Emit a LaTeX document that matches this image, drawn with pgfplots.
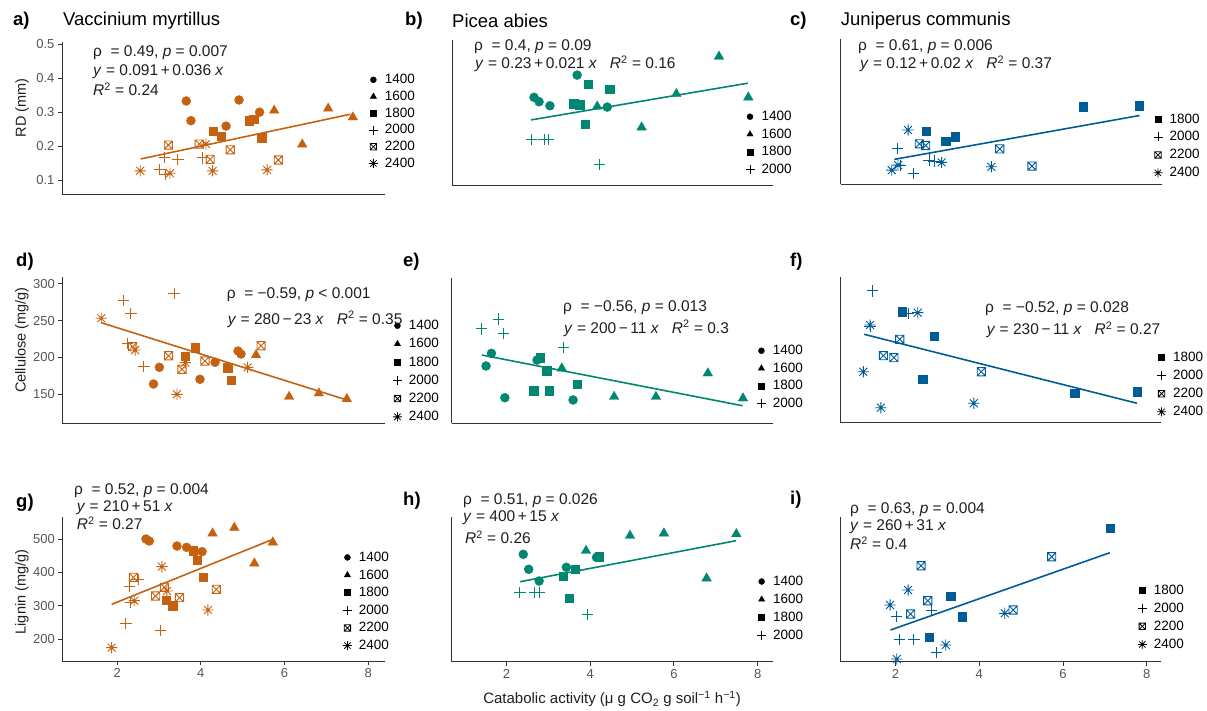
\documentclass[border=0pt]{standalone}
\usepackage{fontspec}
\setmainfont{Liberation Sans}
\usepackage{pgfplots}
\pgfplotsset{compat=1.18}

\definecolor{vor}{RGB}{197,98,18}
\definecolor{vte}{RGB}{0,134,113}
\definecolor{vbl}{RGB}{0,92,150}
\definecolor{axgray}{RGB}{51,51,51}
\definecolor{tkgray}{RGB}{85,85,85}

\pgfdeclareplotmark{boxx}{%
  \pgfpathrectangle{\pgfqpoint{-\pgfplotmarksize}{-\pgfplotmarksize}}{\pgfqpoint{2\pgfplotmarksize}{2\pgfplotmarksize}}%
  \pgfpathmoveto{\pgfqpoint{-\pgfplotmarksize}{-\pgfplotmarksize}}\pgfpathlineto{\pgfqpoint{\pgfplotmarksize}{\pgfplotmarksize}}%
  \pgfpathmoveto{\pgfqpoint{-\pgfplotmarksize}{\pgfplotmarksize}}\pgfpathlineto{\pgfqpoint{\pgfplotmarksize}{-\pgfplotmarksize}}%
  \pgfusepathqstroke}
\pgfdeclareplotmark{ast8}{%
  \pgfpathmoveto{\pgfqpoint{-\pgfplotmarksize}{0pt}}\pgfpathlineto{\pgfqpoint{\pgfplotmarksize}{0pt}}%
  \pgfpathmoveto{\pgfqpoint{0pt}{-\pgfplotmarksize}}\pgfpathlineto{\pgfqpoint{0pt}{\pgfplotmarksize}}%
  \pgfpathmoveto{\pgfqpoint{-0.707\pgfplotmarksize}{-0.707\pgfplotmarksize}}\pgfpathlineto{\pgfqpoint{0.707\pgfplotmarksize}{0.707\pgfplotmarksize}}%
  \pgfpathmoveto{\pgfqpoint{-0.707\pgfplotmarksize}{0.707\pgfplotmarksize}}\pgfpathlineto{\pgfqpoint{0.707\pgfplotmarksize}{-0.707\pgfplotmarksize}}%
  \pgfusepathqstroke}

\pgfplotsset{
  base/.style={
    scale only axis, anchor=south west, clip=false,
    axis x line*=bottom, axis y line*=left,
    axis line style={line width=1pt, draw=axgray},
    tick align=outside, major tick length=4pt,
    tick style={line width=0.9pt, draw=axgray},
    xtick=\empty, ytick=\empty,
    tick label style={font=\fontsize{13}{13}\selectfont, text=tkgray},
    /pgf/number format/assume math mode=true,
    legend style={draw=none, fill=none, inner sep=0pt, font=\fontsize{13.5}{13.5}\selectfont, text=black, anchor=north west, nodes={inner sep=1pt}, column sep=6pt},
    legend cell align=left,
    legend image code/.code={\draw[##1] plot coordinates {(0pt,0pt)};},
  },
  leg/.style n args={3}{legend style={at={(axis description cs:#1,#2)}, row sep=#3}},
  m1400/.style={only marks, mark=*, mark size=4.5},
  m1600/.style={only marks, mark=triangle*, mark size=5.5},
  m1800/.style={only marks, mark=square*, mark size=4.1},
  m2000/.style={only marks, mark=+, mark size=5.6, mark options={line width=1pt}},
  m2200/.style={only marks, mark=boxx, mark size=4.1, mark options={line width=0.9pt}},
  m2400/.style={only marks, mark=ast8, mark size=5.6, mark options={line width=0.9pt}},
  l1400/.style={only marks, black, mark=*, mark size=3},
  l1600/.style={only marks, black, mark=triangle*, mark size=3.6},
  l1800/.style={only marks, black, mark=square*, mark size=3},
  l2000/.style={only marks, black, mark=+, mark size=4.5, mark options={line width=0.9pt}},
  l2200/.style={only marks, black, mark=boxx, mark size=3.2, mark options={line width=0.8pt}},
  l2400/.style={only marks, black, mark=ast8, mark size=4.5, mark options={line width=0.8pt}},
  rline/.style={no marks, line width=1.6pt, forget plot},
}

\newcommand{\LG}[1]{\addlegendimage{l#1}\addlegendentry{#1}}
\newcommand{\legsix}{\LG{1400}\LG{1600}\LG{1800}\LG{2000}\LG{2200}\LG{2400}}
\newcommand{\legfour}{\LG{1400}\LG{1600}\LG{1800}\LG{2000}}
\newcommand{\legjun}{\LG{1800}\LG{2000}\LG{2200}\LG{2400}}
\newcommand{\annfont}{\fontsize{15.5}{17}\selectfont}
\newcommand{\ann}[3]{\node[anchor=west,inner sep=0pt,font=\annfont,text=black!88] at (#1pt,-#2pt) {#3};}
\newcommand{\ylab}[2]{\node[rotate=90,inner sep=0pt,font=\fontsize{14.5}{15}\selectfont,text=black!88] at (22pt,-#1pt) {#2};}

\begin{document}
\begin{tikzpicture}
\useasboundingbox (0pt,0pt) rectangle (1207pt,-710pt);

% ---------------- a ----------------
\begin{axis}[base, at={(62pt,-194pt)}, width=323pt, height=152pt,
  xmin=0.69, xmax=8.408, ymin=0.0587, ymax=0.507,
  ytick={0.1,0.2,0.3,0.4,0.5}, leg={0.9495}{0.795}{3.8pt}]
\addplot[m1400,color=vor,forget plot] coordinates {(3.66,0.333) (3.77,0.275) (4.61,0.259) (4.92,0.336) (5.41,0.300)};
\addplot[m1600,color=vor,forget plot] coordinates {(5.76,0.305) (6.43,0.205) (7.05,0.311) (7.64,0.285)};
\addplot[m1800,color=vor,forget plot] coordinates {(4.31,0.245) (4.49,0.230) (5.16,0.275) (5.27,0.279) (5.46,0.225)};
\addplot[m2000,color=vor,forget plot] coordinates {(3.13,0.167) (3.46,0.161) (3.02,0.130) (3.17,0.117) (4.04,0.165)};
\addplot[m2200,color=vor,forget plot] coordinates {(3.23,0.203) (3.97,0.206) (4.23,0.161) (4.71,0.189) (5.86,0.159)};
\addplot[m2400,color=vor,forget plot] coordinates {(2.56,0.127) (3.27,0.120) (4.13,0.206) (4.29,0.127) (5.59,0.130)};
\addplot[rline,color=vor] coordinates {(2.57,0.162) (7.58,0.294)};
\legsix
\end{axis}

% ---------------- b ----------------
\begin{axis}[base, at={(452pt,-185pt)}, width=321pt, height=145pt,
  xmin=0.69, xmax=8.360, ymin=0.09, ymax=0.52, leg={0.9137}{0.517}{4.6pt}]
\addplot[m1400,color=vte,forget plot] coordinates {(2.65,0.350) (2.77,0.337) (3.03,0.325) (3.68,0.416) (4.40,0.321)};
\addplot[m1600,color=vte,forget plot] coordinates {(4.16,0.323) (5.22,0.261) (6.05,0.360) (7.07,0.471) (7.77,0.350)};
\addplot[m1800,color=vte,forget plot] coordinates {(3.94,0.390) (4.46,0.374) (3.60,0.331) (3.74,0.328) (3.87,0.271)};
\addplot[m2000,color=vte,forget plot] coordinates {(2.58,0.226) (2.89,0.226) (2.99,0.226) (4.21,0.151)};
\addplot[rline,color=vte] coordinates {(2.58,0.283) (7.76,0.392)};
\legfour
\end{axis}

% ---------------- c ----------------
\begin{axis}[base, at={(840.7pt,-184.3pt)}, width=321pt, height=145pt,
  xmin=0.69, xmax=8.360, ymin=0.09, ymax=0.52, leg={0.9738}{0.496}{5pt}]
\addplot[m1800,color=vbl,forget plot] coordinates {(2.74,0.248) (3.20,0.217) (3.43,0.231) (6.49,0.320) (7.83,0.323)};
\addplot[m2000,color=vbl,forget plot] coordinates {(2.05,0.195) (2.11,0.145) (2.42,0.123) (2.80,0.162) (2.92,0.159)};
\addplot[m2200,color=vbl,forget plot] coordinates {(2.57,0.210) (2.72,0.205) (4.49,0.195) (5.26,0.144)};
\addplot[m2400,color=vbl,forget plot] coordinates {(2.30,0.251) (3.10,0.155) (1.91,0.132) (2.06,0.147) (4.29,0.142)};
\addplot[rline,color=vbl] coordinates {(1.97,0.164) (7.83,0.294)};
\legjun
\end{axis}

% ---------------- d ----------------
\begin{axis}[base, at={(62.3pt,-423.3pt)}, width=322.7pt, height=146.6pt,
  xmin=0.69, xmax=8.401, ymin=110.6, ymax=309.8,
  ytick={150,200,250,300}, leg={1.024}{0.711}{5.3pt}]
\addplot[m1400,color=vor,forget plot] coordinates {(2.87,164) (3.01,186.7) (3.98,170.4) (4.34,193.5) (4.89,208.8) (4.96,204.8)};
\addplot[m1600,color=vor,forget plot] coordinates {(5.32,203.4) (6.11,146.7) (6.82,151.4) (7.49,143.6)};
\addplot[m1800,color=vor,forget plot] coordinates {(3.86,213.3) (3.63,202) (4.64,186.1) (4.73,169.4)};
\addplot[m2000,color=vor,forget plot] coordinates {(2.15,277.2) (2.33,260) (3.36,287.2) (2.64,187.5) (2.24,219.3)};
\addplot[m2200,color=vor,forget plot] coordinates {(2.37,214.7) (3.23,202.4) (3.55,184) (4.10,195.2) (5.44,216)};
\addplot[m2400,color=vor,forget plot] coordinates {(1.62,253.3) (2.43,210.2) (3.43,150) (3.63,193) (5.12,186.7)};
\addplot[rline,color=vor] coordinates {(1.62,247.3) (7.49,142.3)};
\legsix
\end{axis}

% ---------------- e ----------------
\begin{axis}[base, at={(451.7pt,-423.3pt)}, width=321.6pt, height=145.6pt,
  xmin=0.69, xmax=8.374, ymin=95, ymax=292.9, leg={0.9484}{0.544}{4.7pt}]
\addplot[m1400,color=vte,forget plot] coordinates {(1.51,172.9) (1.64,190.1) (1.96,129.8) (2.73,181) (3.59,126.7)};
\addplot[m1600,color=vte,forget plot] coordinates {(3.32,169.7) (4.57,131.1) (5.57,131.1) (6.81,163) (7.65,129)};
\addplot[m1800,color=vte,forget plot] coordinates {(2.80,184.2) (2.96,166.5) (2.65,139.3) (3.02,139.3) (3.69,148)};
\addplot[m2000,color=vte,forget plot] coordinates {(1.41,223.2) (1.80,236.7) (1.92,217.3) (3.37,198.3)};
\addplot[rline,color=vte] coordinates {(1.41,187.8) (7.64,118.9)};
\legfour
\end{axis}

% ---------------- f ----------------
\begin{axis}[base, at={(840.7pt,-422.7pt)}, width=320pt, height=146pt,
  xmin=0.69, xmax=8.336, ymin=124.4, ymax=276.2, leg={0.988}{0.4925}{5.2pt}]
\addplot[m1800,color=vbl,forget plot] coordinates {(2.15,239.8) (2.92,214.6) (2.65,169.8) (6.28,155) (7.78,156.6)};
\addplot[m2000,color=vbl,forget plot] coordinates {(1.45,261.4) (2.30,238.2) (1.39,224.2)};
\addplot[m2200,color=vbl,forget plot] coordinates {(2.10,211.1) (1.71,194.1) (1.96,192) (4.05,177.4)};
\addplot[m2400,color=vbl,forget plot] coordinates {(2.53,238.8) (1.39,226) (1.23,177.4) (1.65,140) (3.87,144.6)};
\addplot[rline,color=vbl] coordinates {(1.25,216.3) (7.77,144.6)};
\legjun
\end{axis}

% ---------------- g ----------------
\begin{axis}[base, at={(62.3pt,-661pt)}, width=322.7pt, height=144.3pt,
  xmin=0.69, xmax=8.401, ymin=134, ymax=566.9,
  xtick={2,4,6,8}, ytick={200,300,400,500}, leg={0.869}{0.764}{4.7pt}]
\addplot[m1400,color=vor,forget plot] coordinates {(2.69,500) (2.77,494) (3.43,479) (3.66,475) (4.03,462)};
\addplot[m1600,color=vor,forget plot] coordinates {(4.28,517) (4.80,534) (5.28,427) (5.72,490)};
\addplot[m1800,color=vor,forget plot] coordinates {(3.82,465) (3.92,437) (4.06,385) (3.17,317) (3.33,300)};
\addplot[m2000,color=vor,forget plot] coordinates {(2.29,359) (2.50,379) (2.21,247) (3.03,225) (2.33,309)};
\addplot[m2200,color=vor,forget plot] coordinates {(2.39,385) (2.92,329) (3.13,355) (3.49,324) (4.37,349)};
\addplot[m2400,color=vor,forget plot] coordinates {(1.87,174) (2.41,315) (3.07,417) (3.19,344) (4.17,287)};
\addplot[rline,color=vor] coordinates {(1.87,304) (5.68,497)};
\legsix
\end{axis}

% ---------------- h ----------------
\begin{axis}[base, at={(451.7pt,-661.7pt)}, width=321pt, height=145pt,
  xmin=0.69, xmax=8.360, ymin=283.8, ymax=557.6,
  xtick={2,4,6,8}, leg={0.951}{0.599}{5pt}]
\addplot[m1400,color=vte,forget plot] coordinates {(2.40,486.6) (2.53,458.3) (2.78,436.2) (3.43,462) (4.15,480.9)};
\addplot[m1600,color=vte,forget plot] coordinates {(3.90,493.4) (4.95,521.7) (5.76,526.2) (6.78,441.3) (7.49,524.9)};
\addplot[m1800,color=vte,forget plot] coordinates {(4.21,482) (3.65,458.3) (3.35,445.6) (3.49,403.5)};
\addplot[m2000,color=vte,forget plot] coordinates {(2.32,414.1) (2.67,414.1) (2.78,414.1) (3.93,373.3)};
\addplot[rline,color=vte] coordinates {(2.32,434.8) (7.48,512.2)};
\legfour
\end{axis}

% ---------------- i ----------------
\begin{axis}[base, at={(840.7pt,-661.7pt)}, width=320.3pt, height=145pt,
  xmin=0.69, xmax=8.343, ymin=251.7, ymax=556.2,
  xtick={2,4,6,8}, leg={0.927}{0.540}{5.2pt}]
\addplot[m1800,color=vbl,forget plot] coordinates {(7.12,531.8) (3.32,389.7) (3.60,346.2) (2.80,303)};
\addplot[m2000,color=vbl,forget plot] coordinates {(2.03,346.2) (2.09,298.7) (2.44,298.7) (2.85,358.8) (2.98,271.4)};
\addplot[m2200,color=vbl,forget plot] coordinates {(2.61,453.3) (2.77,379.8) (2.36,351.9) (4.81,360.3) (5.73,472.2)};
\addplot[m2400,color=vbl,forget plot] coordinates {(1.87,370.8) (2.30,402.3) (3.20,286.8) (4.61,353.3) (2.03,257.4)};
\addplot[rline,color=vbl] coordinates {(1.88,318.3) (7.12,480.6)};
\legjun
\end{axis}

% ---------------- titles ----------------
\begin{scope}[every node/.style={anchor=west,inner sep=0pt}]
\node[font=\fontsize{18.5}{20}\selectfont\bfseries] at (13pt,-20.5pt) {a)};
\node[font=\fontsize{18.5}{20}\selectfont] at (63pt,-20.5pt) {Vaccinium myrtillus};
\node[font=\fontsize{18.5}{20}\selectfont\bfseries] at (405pt,-20.5pt) {b)};
\node[font=\fontsize{18.5}{20}\selectfont] at (452pt,-20.5pt) {Picea abies};
\node[font=\fontsize{18.5}{20}\selectfont\bfseries] at (790pt,-20.5pt) {c)};
\node[font=\fontsize{18.5}{20}\selectfont] at (840.7pt,-20.5pt) {Juniperus communis};
\node[font=\fontsize{18.5}{20}\selectfont\bfseries] at (16pt,-261.7pt) {d)};
\node[font=\fontsize{18.5}{20}\selectfont\bfseries] at (403pt,-261.7pt) {e)};
\node[font=\fontsize{18.5}{20}\selectfont\bfseries] at (790pt,-261.7pt) {f)};
\node[font=\fontsize{18.5}{20}\selectfont\bfseries] at (16pt,-503pt) {g)};
\node[font=\fontsize{18.5}{20}\selectfont\bfseries] at (403pt,-500.7pt) {h)};
\node[font=\fontsize{18.5}{20}\selectfont\bfseries] at (790pt,-500pt) {i)};
\end{scope}

% ---------------- y labels ----------------
\ylab{108}{RD (mm)}
\ylab{340}{Cellulose (mg/g)}
\ylab{592}{Lignin (mg/g)}

% ---------------- x label ----------------
\node[inner sep=0pt,font=\fontsize{15}{16}\selectfont,text=black!88] at (612pt,-699pt) {Catabolic activity (μ g CO\textsubscript{2} g soil\textsuperscript{−1} h\textsuperscript{−1})};

% ---------------- annotations ----------------
\ann{93}{53}{ρ~~= 0.49, \textit{p} = 0.007}
\ann{93}{72}{\textit{y} = 0.091\,+\,0.036 \textit{x}}
\ann{93}{89.5}{\textit{R}\textsuperscript{2} = 0.24}

\ann{474}{46.7}{ρ~~= 0.4, \textit{p} = 0.09}
\ann{475}{63.5}{\textit{y} = 0.23\,+\,0.021 \textit{x}~~~\textit{R}\textsuperscript{2} = 0.16}

\ann{858}{46.7}{ρ~~= 0.61, \textit{p} = 0.006}
\ann{860}{64}{\textit{y} = 0.12\,+\,0.02 \textit{x}~~~\textit{R}\textsuperscript{2} = 0.37}

\ann{226.7}{295}{ρ~~= −0.59, \textit{p} < 0.001}
\ann{227.7}{319.3}{\textit{y} = 280\,−\,23 \textit{x}~~~\textit{R}\textsuperscript{2} = 0.35}

\ann{563}{307.3}{ρ~~= −0.56, \textit{p} = 0.013}
\ann{564}{328.3}{\textit{y} = 200\,−\,11 \textit{x}~~~\textit{R}\textsuperscript{2} = 0.3}

\ann{985}{309}{ρ~~= −0.52, \textit{p} = 0.028}
\ann{986.7}{330}{\textit{y} = 230\,−\,11 \textit{x}~~~\textit{R}\textsuperscript{2} = 0.27}

\ann{74}{490.7}{ρ~~= 0.52, \textit{p} = 0.004}
\ann{76.7}{508}{\textit{y} = 210\,+\,51 \textit{x}}
\ann{76.7}{523}{\textit{R}\textsuperscript{2} = 0.27}

\ann{463}{500.7}{ρ~~= 0.51, \textit{p} = 0.026}
\ann{463}{517.7}{\textit{y} = 400\,+\,15 \textit{x}}
\ann{465}{537.3}{\textit{R}\textsuperscript{2} = 0.26}

\ann{850}{510}{ρ~~= 0.63, \textit{p} = 0.004}
\ann{850}{526.7}{\textit{y} = 260\,+\,31 \textit{x}}
\ann{850}{543.3}{\textit{R}\textsuperscript{2} = 0.4}
\end{tikzpicture}
\end{document}
